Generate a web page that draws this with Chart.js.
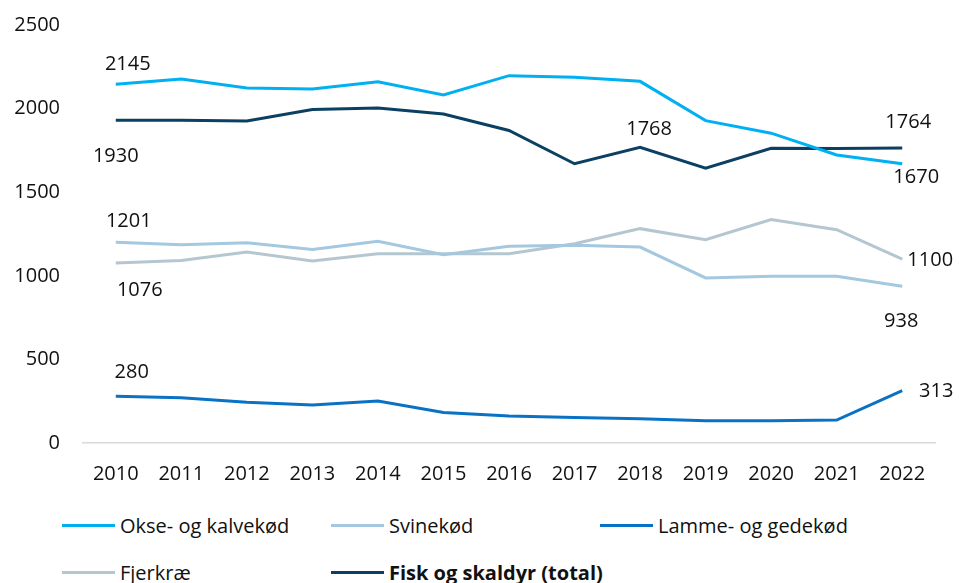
<!DOCTYPE html>
<html>
<head>
<meta charset="utf-8">
<script src="https://cdn.jsdelivr.net/npm/chart.js@4.4.1/dist/chart.umd.min.js"></script>
<style>
  html, body { margin: 0; padding: 0; background: #fff; overflow: hidden; }
  #wrap { position: relative; width: 959px; height: 583px; overflow: hidden; font-family: "Open Sans", sans-serif; }
  #chartBox { position: absolute; left: 0; top: -10px; width: 959px; height: 515px; }
  .legItem { position: absolute; display: flex; align-items: center; font-size: 20px; color: #111; white-space: nowrap; }
  .legItem span.sw { display: inline-block; width: 53px; height: 3px; margin-right: 5px; }
</style>
</head>
<body>
<div id="wrap">
  <div id="chartBox"><canvas id="chart"></canvas></div>
  <div id="legend"></div>
</div>
<script>
const years = ['2010', '2011', '2012', '2013', '2014', '2015', '2016', '2017', '2018', '2019', '2020', '2021', '2022']

const okse = [2145, 2177, 2123, 2117, 2161, 2082, 2197, 2187, 2163, 1928, 1853, 1723, 1670]
const svine = [1201, 1186, 1198, 1158, 1206, 1126, 1176, 1182, 1172, 987, 997, 997, 938]
const lamme = [280, 271, 243, 227, 251, 183, 161, 153, 145, 133, 133, 137, 313]
const fjerkrae = [1076, 1092, 1142, 1088, 1132, 1132, 1132, 1192, 1282, 1216, 1337, 1276, 1100]
const fisk = [1930, 1930, 1926, 1994, 2004, 1968, 1869, 1670, 1768, 1644, 1763, 1762, 1764]

const seriesNames = ['Okse- og kalvekød', 'Svinekød', 'Lamme- og gedekød', 'Fjerkræ', 'Fisk og skaldyr (total)']
const seriesColors = ['#00B0F0', '#A3C8DF', '#0A72C4', '#B4C7D1', '#0B4062']

// which points get a value label, and where the text sits relative to the point
const labelSpots = [
    [[0, 12, -20], [12, 14, 14]],
    [[0, 13, -21], [12, -1, 35]],
    [[0, 16, -24], [12, 34, 1]],
    [[0, 24, 27], [12, 28, 1]],
    [[0, 0, 36], [8, 9, -18], [12, 6, -26]]
]

const allSeries = [okse, svine, lamme, fjerkrae, fisk]
const datasets = []
for (let i = 0; i < allSeries.length; i++) {
    datasets.push({
        label: seriesNames[i],
        data: allSeries[i],
        borderColor: seriesColors[i],
        backgroundColor: seriesColors[i],
        borderWidth: 3,
        pointRadius: 0,
        tension: 0,
        fill: false
    })
}

const valueLabels = {
    id: 'valueLabels',
    afterDatasetsDraw(chart) {
        const ctx = chart.ctx
        ctx.save()
        ctx.font = '20px "Open Sans"'
        ctx.fillStyle = '#111'
        ctx.textAlign = 'center'
        ctx.textBaseline = 'middle'
        labelSpots.forEach((spots, di) => {
            const meta = chart.getDatasetMeta(di)
            for (let s of spots) {
                const pt = meta.data[s[0]]
                ctx.fillText(String(allSeries[di][s[0]]), pt.x + s[1], pt.y + s[2])
            }
        })
        ctx.restore()
    }
}

const font = { family: '"Open Sans"', size: 20 }

new Chart(document.getElementById('chart').getContext('2d'), {
    type: 'line',
    data: { labels: years, datasets: datasets },
    options: {
        responsive: true,
        maintainAspectRatio: false,
        animation: false,
        layout: { padding: { top: 11, right: 24, bottom: 0, left: 0 } },
        plugins: { legend: { display: false }, tooltip: { enabled: false } },
        scales: {
            x: {
                offset: true,
                grid: { display: false, drawTicks: false },
                border: { display: true, color: '#D9D9D9', width: 1.5 },
                ticks: { color: '#111', font: font, padding: 19, maxRotation: 0 }
            },
            y: {
                min: 0,
                max: 2500,
                grid: { display: false, drawTicks: false },
                border: { display: false },
                ticks: { stepSize: 500, color: '#111', font: font, padding: 23, callback: v => String(v) },
                afterFit(scale) { scale.width = 83 }
            }
        }
    },
    plugins: [valueLabels]
})

// legend laid out like the original: three columns, two rows
const legendCols = [62, 331, 600]
const legendRows = [525, 572]
const legend = document.getElementById('legend')
for (let i = 0; i < seriesNames.length; i++) {
    const item = document.createElement('div')
    item.className = 'legItem'
    item.style.left = legendCols[i % 3] + 'px'
    item.style.top = (legendRows[Math.floor(i / 3)] - 14) + 'px'
    item.style.height = '28px'
    const sw = document.createElement('span')
    sw.className = 'sw'
    sw.style.background = seriesColors[i]
    const txt = document.createElement('span')
    txt.textContent = seriesNames[i]
    if (i === 4) txt.style.fontWeight = 'bold'
    item.appendChild(sw)
    item.appendChild(txt)
    legend.appendChild(item)
}
</script>
</body>
</html>
